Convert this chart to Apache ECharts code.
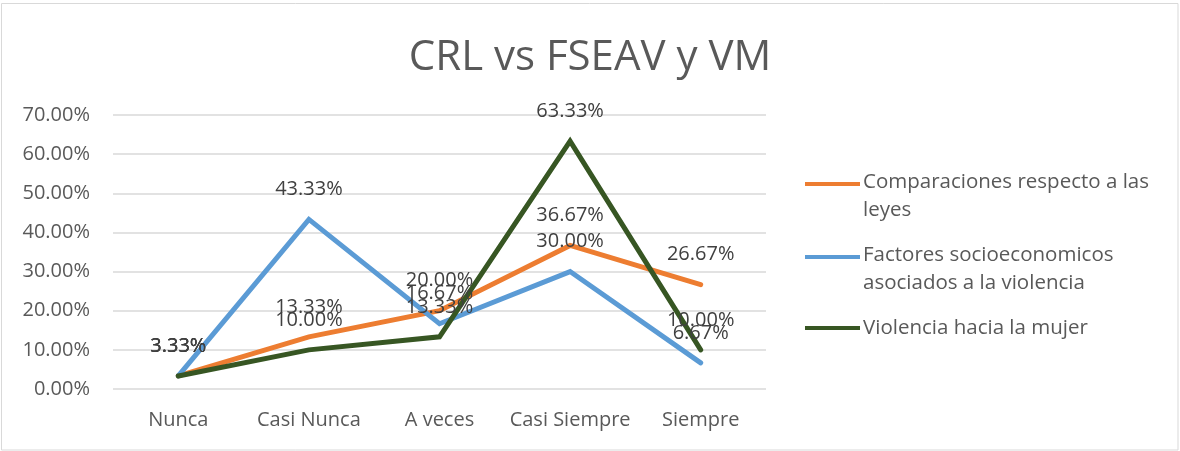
<!DOCTYPE html>
<html>
<head>
<meta charset="utf-8">
<script src="https://cdn.jsdelivr.net/npm/echarts@6/dist/echarts.min.js"></script>
<style>
  html, body { margin: 0; padding: 0; background: #fff; }
  #chart { width: 1180px; height: 451px; }
</style>
</head>
<body>
<div id="chart"></div>
<script>
// datos (porcentajes)
const categories = ['Nunca', 'Casi Nunca', 'A veces', 'Casi Siempre', 'Siempre'];
const seriesNames = [
  'Comparaciones respecto a las leyes',
  'Factores socioeconomicos asociados a la violencia',
  'Violencia hacia la mujer'
];
const comparaciones = [3.33, 13.33, 20.00, 36.67, 26.67];
const factores = [3.33, 43.33, 16.67, 30.00, 6.67];
const violencia = [3.33, 10.00, 13.33, 63.33, 10.00];
const yTicks = { min: 0, max: 70, interval: 10 };

const colors = ['#ED7D31', '#5B9BD5', '#375623'];
const font = 'Open Sans';

// saltos de linea en la leyenda como en el original
const legendText = {};
legendText[seriesNames[0]] = 'Comparaciones respecto a las\nleyes';
legendText[seriesNames[1]] = 'Factores socioeconomicos\nasociados a la violencia';
legendText[seriesNames[2]] = 'Violencia hacia la mujer';

const pct = v => v.toFixed(2) + '%';

const chart = echarts.init(document.getElementById('chart'));

const mkSeries = (name, data, color) => ({
  name: name,
  type: 'line',
  data: data,
  color: color,
  symbol: 'circle',
  symbolSize: 0,
  showSymbol: true,
  lineStyle: { width: 5, color: color, cap: 'round', join: 'miter' },
  label: {
    show: true,
    position: 'top',
    distance: 20,
    formatter: p => pct(p.value),
    fontFamily: font,
    fontSize: 20,
    color: '#404040'
  },
  emphasis: { disabled: true }
});

// icono con la linea arriba para los textos de dos lineas
const topLine = 'path://M0,0H55V4H0Z M0,28L0,28';
const midLine = 'path://M0,0H55V4H0Z';

chart.setOption({
  animation: false,
  title: {
    text: 'CRL vs FSEAV y VM',
    left: 'center',
    top: 32,
    textStyle: { fontFamily: font, fontSize: 42, fontWeight: 'normal', color: '#595959' }
  },
  grid: { left: 113, right: 414, top: 115, bottom: 62 },
  legend: {
    orient: 'vertical',
    left: 805,
    top: 168,
    padding: 0,
    itemWidth: 55,
    itemHeight: 28,
    itemGap: 17,
    symbolKeepAspect: true,
    formatter: name => legendText[name],
    textStyle: { fontFamily: font, fontSize: 20.5, color: '#595959', lineHeight: 28, padding: [0, 0, 0, -2] },
    data: [
      { name: seriesNames[0], icon: topLine },
      { name: seriesNames[1], icon: topLine },
      { name: seriesNames[2], icon: midLine }
    ]
  },
  xAxis: {
    type: 'category',
    data: categories,
    boundaryGap: true,
    axisLine: { show: false },
    axisTick: { show: false },
    axisLabel: { interval: 0, fontFamily: font, fontSize: 20, color: '#595959', margin: 21 }
  },
  yAxis: {
    type: 'value',
    min: yTicks.min,
    max: yTicks.max,
    interval: yTicks.interval,
    axisLabel: { formatter: v => pct(v), fontFamily: font, fontSize: 20, color: '#595959', margin: 23 },
    splitLine: { lineStyle: { color: '#d9d9d9', width: 1.5 } }
  },
  graphic: [{
    type: 'rect',
    shape: { x: 1.5, y: 3.5, width: 1176.5, height: 446.5 },
    style: { fill: 'none', stroke: '#d9d9d9', lineWidth: 1 },
    silent: true
  }],
  series: [
    mkSeries(seriesNames[0], comparaciones, colors[0]),
    mkSeries(seriesNames[1], factores, colors[1]),
    mkSeries(seriesNames[2], violencia, colors[2])
  ]
});
</script>
</body>
</html>
